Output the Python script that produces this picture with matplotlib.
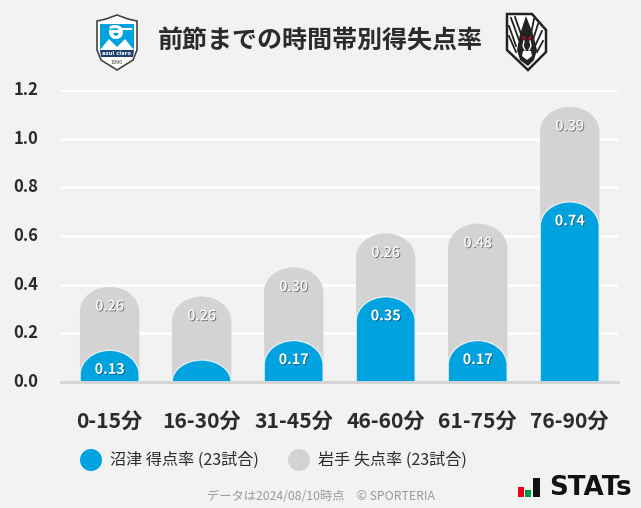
import matplotlib
matplotlib.use('Agg')
import matplotlib.pyplot as plt
import matplotlib.patheffects as pe
from matplotlib.patches import Circle, PathPatch, Polygon, Rectangle
from matplotlib.path import Path
from matplotlib.transforms import ScaledTranslation

plt.rcParams['font.family'] = ['Noto Sans CJK JP', 'DejaVu Sans']

categories = ['0-15分', '16-30分', '31-45分', '46-60分', '61-75分', '76-90分']
numazu = [0.13, 0.09, 0.17, 0.35, 0.17, 0.74]
iwate = [0.26, 0.26, 0.30, 0.26, 0.48, 0.39]
numazu_labels = ['0.13', '', '0.17', '0.35', '0.17', '0.74']
iwate_labels = ['0.26', '0.26', '0.30', '0.26', '0.48', '0.39']
y_ticks = [0.0, 0.2, 0.4, 0.6, 0.8, 1.0, 1.2]

BLUE = '#00a3e0'
GREY = '#d3d3d3'
BG = '#f2f2f2'
DARK = '#2b2b2b'

fig = plt.figure(figsize=(6.41, 5.08), dpi=100, facecolor=BG)
ax = fig.add_axes([61 / 641, 1 - 382 / 508, 557 / 641, 292 / 508], facecolor=BG)


def round_top(rect, cap=0.1, **kw):
    # swap a bar for the same bar with an elliptical top
    x0, w, h = rect.get_x(), rect.get_width(), rect.get_height()
    y0 = rect.get_y()
    top = y0 + h
    c = min(cap, h)
    k = 0.5523
    verts = [(x0, y0), (x0, top - c),
             (x0, top - c + k * c), (x0 + w / 2 - k * w / 2, top), (x0 + w / 2, top),
             (x0 + w / 2 + k * w / 2, top), (x0 + w, top - c + k * c), (x0 + w, top - c),
             (x0 + w, y0), (x0, y0)]
    codes = [Path.MOVETO, Path.LINETO, Path.CURVE4, Path.CURVE4, Path.CURVE4,
             Path.CURVE4, Path.CURVE4, Path.CURVE4, Path.LINETO, Path.CLOSEPOLY]
    rect.set_visible(False)
    ax.add_patch(PathPatch(Path(verts, codes), **kw))


xs = range(len(categories))
totals = [a + b for a, b in zip(numazu, iwate)]
grey_bars = ax.bar(xs, totals, width=0.64)
blue_bars = ax.bar(xs, numazu, width=0.64)
for r in grey_bars:
    round_top(r, facecolor=GREY, edgecolor=GREY, linewidth=0.3, zorder=3)
for r in blue_bars:
    round_top(r, facecolor=BLUE, edgecolor='#f4f4f4', linewidth=0.8, zorder=4)

ax.set_xlim(-0.528, 5.525)
ax.set_ylim(0, 1.2)
ax.set_yticks(y_ticks, [f'{v:.1f}' for v in y_ticks], fontsize=12, fontweight='bold', color=DARK)
ax.set_xticks(list(xs), categories, fontsize=15.2, fontweight='bold', color=DARK)
ax.tick_params(axis='both', length=0)
ax.tick_params(axis='x', pad=20.7)
ax.tick_params(axis='y', pad=16.5)
up = ScaledTranslation(0, 1.5 / 72, fig.dpi_scale_trans)
for lab in ax.get_yticklabels():
    lab.set_transform(lab.get_transform() + up)
ax.grid(axis='y', color='white', linewidth=2, zorder=1)
ax.set_axisbelow(True)
for s in ['top', 'right', 'left']:
    ax.spines[s].set_visible(False)
ax.spines['bottom'].set_color(GREY)
ax.spines['bottom'].set_linewidth(2)
ax.spines['bottom'].set_zorder(5)

for i, (t, lab) in enumerate(zip(totals, iwate_labels)):
    ax.annotate(lab, (i, t), xytext=(0, -14), textcoords='offset points', ha='center', va='center',
                color='white', fontsize=10.3, fontweight='medium', zorder=6,
                path_effects=[pe.withSimplePatchShadow(offset=(0.6, -0.6), shadow_rgbFace='#444444', alpha=0.75)])
for i, (v, lab) in enumerate(zip(numazu, numazu_labels)):
    if lab:
        ax.annotate(lab, (i, v), xytext=(0, -14), textcoords='offset points', ha='center', va='center',
                    color='white', fontsize=10.3, fontweight='bold', zorder=6,
                    path_effects=[pe.withSimplePatchShadow(offset=(0.6, -0.6), shadow_rgbFace='#0a4a66', alpha=0.8)])

# everything outside the plot, in pixel coordinates
ov = fig.add_axes([0, 0, 1, 1], facecolor='none')
ov.set_xlim(0, 641)
ov.set_ylim(508, 0)
ov.axis('off')

ov.text(320.5, 41, '前節までの時間帯別得失点率', ha='center', va='center', fontsize=18,
        fontweight='bold', color=DARK)

# legend
ov.add_patch(Circle((91, 460), 11, color=BLUE, lw=0))
ov.text(110, 460, '沼津 得点率 (23試合)', ha='left', va='center', fontsize=11.6, color=DARK)
ov.add_patch(Circle((299, 460), 11, color=GREY, lw=0))
ov.text(318, 460, '岩手 失点率 (23試合)', ha='left', va='center', fontsize=11.6, color=DARK)

# footer
ov.text(320.5, 497, 'データは2024/08/10時点　© SPORTERIA', ha='center', va='center', fontsize=8.8,
        color='#999999')

# STATs mark
ov.add_patch(Rectangle((518, 487), 6, 10, color='#e60012', lw=0))
ov.add_patch(Rectangle((525, 490), 6, 7, color='#009a44', lw=0))
ov.add_patch(Rectangle((533, 478), 7, 19, color='#111111', lw=0))
ov.text(549, 488, 'STATs', ha='left', va='center', fontsize=18.8, fontweight='bold', color='#111111',
        family='DejaVu Sans')

# Azul Claro crest
ov.add_patch(Polygon([(117, 15), (128, 19), (137, 21), (137, 50), (133, 60), (117, 70), (101, 60),
                      (97, 50), (97, 21), (106, 19)], closed=True, fc='white', ec='#444444', lw=1.2))
ov.add_patch(Polygon([(100, 24), (134, 24), (134, 50), (100, 50)], closed=True, fc=BLUE, lw=0))
ov.add_patch(Polygon([(100, 50), (109, 39), (117, 47), (125, 39), (134, 50)], closed=True, fc='white', lw=0))
ov.add_patch(Polygon([(100, 50), (134, 50), (133, 57), (101, 57)], closed=True, fc='#1c3f6e', lw=0))
ov.text(117, 53.5, 'azul claro', ha='center', va='center', color='white', fontsize=3.8, fontweight='bold',
        family='DejaVu Sans')
ov.text(117, 62, '1990', ha='center', va='center', color='#444444', fontsize=3.5, family='DejaVu Sans')
ov.text(116, 32, 'ə', ha='center', va='center', color='white', fontsize=17, fontweight='bold',
        family='DejaVu Sans')
ov.plot([122, 131], [29, 29], color='white', lw=1.5)

# Iwate crest
ov.add_patch(Polygon([(507, 14), (532, 14), (546, 30), (546, 52), (528, 70), (507, 50)], closed=True,
                     fc='white', ec='#222222', lw=1.8))
for x0, y0, x1, y1 in [(511, 18, 519, 40), (515, 17, 521, 34), (509, 26, 516, 46), (509, 36, 516, 52),
                       (542, 31, 535, 46), (538, 24, 533, 40), (543, 41, 537, 52), (534, 19, 531, 34)]:
    ov.plot([x0, x1], [y0, y1], color='#222222', lw=1.3)
ov.add_patch(Polygon([(526, 16), (533, 34), (537, 50), (534, 60), (528, 66), (520, 60), (517, 50), (520, 34)],
                     closed=True, fc='#222222', lw=0))
ov.add_patch(Polygon([(521, 35), (526, 38), (524, 40)], closed=True, fc='#d0021b', lw=0))
ov.add_patch(Polygon([(532, 35), (528, 38), (530, 40)], closed=True, fc='#d0021b', lw=0))
ov.add_patch(Polygon([(523, 51), (531, 51), (532, 56), (527, 60), (522, 56)], closed=True, fc='white', lw=0))
ov.plot([524, 523, 525], [41, 46, 50], color='white', lw=1)
ov.plot([530, 531, 529], [41, 46, 50], color='white', lw=1)

fig.savefig('out.png', dpi=100, facecolor=BG)
